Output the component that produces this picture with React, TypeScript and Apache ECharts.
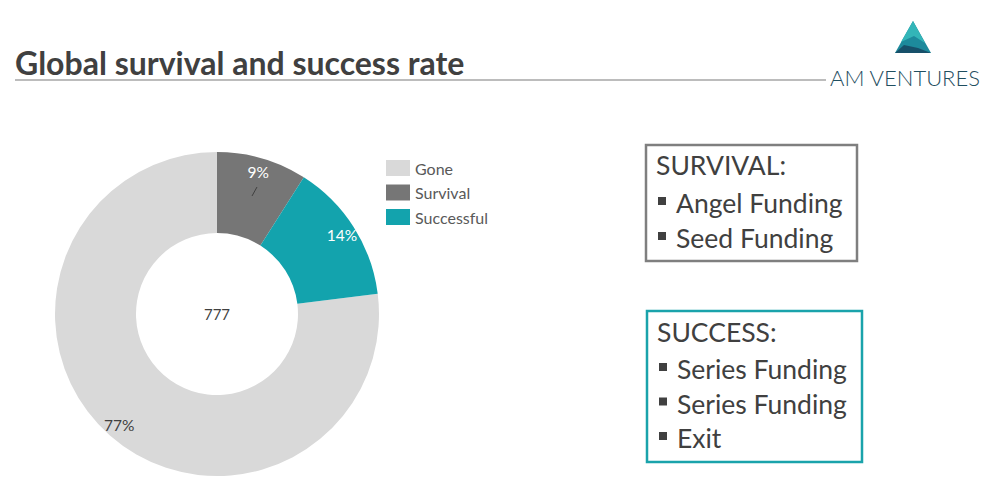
import React, { useEffect, useRef } from "react";
import * as echarts from "echarts";

const categories = ["Gone", "Survival", "Successful"];
const values = [77, 9, 14];
const sliceColors = ["#d9d9d9", "#767676", "#13a3ad"];
const labelColors = ["#404040", "#ffffff", "#ffffff"];
const centerLabel = "777";
const titleText = "Global survival and success rate";
const brandText = "AM VENTURES";
const survivalHeading = "SURVIVAL:";
const survivalItems = ["Angel Funding", "Seed Funding"];
const successHeading = "SUCCESS:";
const successItems = ["Series Funding", "Series Funding", "Exit"];

const FONT = "Lato, 'Open Sans', sans-serif";
const TEXT = "#404040";

function boxGraphics(
  x: number,
  y: number,
  w: number,
  h: number,
  stroke: string,
  heading: string,
  items: string[],
  headingY: number,
  itemY0: number,
  itemStep: number,
  textX: number
) {
  const els: any[] = [
    {
      type: "rect",
      shape: { x, y, width: w, height: h },
      style: { fill: "#ffffff", stroke, lineWidth: 2.5 },
    },
    {
      type: "text",
      x: x + 10,
      y: headingY,
      style: {
        text: heading,
        fill: TEXT,
        font: `26.5px ${FONT}`,
        textVerticalAlign: "middle",
      },
    },
  ];
  items.forEach((t, i) => {
    const cy = itemY0 + i * itemStep;
    els.push({
      type: "rect",
      shape: { x: x + 12, y: cy - 6, width: 8, height: 8 },
      style: { fill: TEXT },
    });
    els.push({
      type: "text",
      x: textX,
      y: cy,
      style: {
        text: t,
        fill: TEXT,
        font: `26.5px ${FONT}`,
        textVerticalAlign: "middle",
      },
    });
  });
  return els;
}

export default function App() {
  const ref = useRef<HTMLDivElement>(null);
  useEffect(() => {
    if (!ref.current) return;
    const chart = echarts.init(ref.current, undefined, { renderer: "svg" });
    const total = values.reduce((a, b) => a + b, 0);
    const startAngle = 90 - 360 * (1 - values[0] / total);
    const data = categories.map((name, i) => ({
      name,
      value: values[i],
      itemStyle: { color: sliceColors[i] },
    }));
    const labelData = categories.map((name, i) => ({
      name,
      value: values[i],
      itemStyle: { color: "rgba(0,0,0,0)" },
      label: { color: labelColors[i] },
    }));
    chart.setOption({
      animation: false,
      backgroundColor: "#ffffff",
      legend: {
        orient: "vertical",
        left: 386,
        top: 160,
        itemWidth: 24,
        itemHeight: 16,
        itemGap: 8.5,
        padding: 0,
        icon: "rect",
        selectedMode: false,
        textStyle: { fontSize: 16, color: "#595959", fontFamily: FONT },
        data: categories.map((name, i) => ({
          name,
          itemStyle: { color: sliceColors[i] },
        })),
      },
      series: [
        {
          type: "pie",
          center: [217, 314],
          radius: [81, 162],
          startAngle,
          clockwise: true,
          silent: true,
          label: { show: false },
          labelLine: { show: false },
          data,
        },
        {
          type: "pie",
          center: [217, 314],
          radius: [128, 162],
          startAngle,
          clockwise: true,
          silent: true,
          label: {
            show: true,
            position: "inside",
            formatter: "{d}%",
            fontSize: 15.5,
            fontFamily: FONT,
          },
          labelLine: { show: false },
          data: labelData,
        },
      ],
      graphic: [
        {
          type: "text",
          x: 15,
          y: 62,
          style: {
            text: titleText,
            fill: TEXT,
            font: `bold 32px ${FONT}`,
            textVerticalAlign: "middle",
          },
        },
        {
          type: "line",
          shape: { x1: 15, y1: 80, x2: 826, y2: 80 },
          style: { stroke: "#a6a6a6", lineWidth: 1.5 },
        },
        {
          type: "polygon",
          shape: { points: [[913, 21], [895, 53], [931, 53]] },
          style: { fill: "#1d8a9c" },
        },
        {
          type: "polygon",
          shape: { points: [[913, 21], [901, 42], [914, 36], [925, 43]] },
          style: { fill: "#33b5b8" },
        },
        {
          type: "polygon",
          shape: { points: [[895, 53], [904, 45], [918, 48], [931, 53]] },
          style: { fill: "#17506a" },
        },
        {
          type: "text",
          x: 830,
          y: 77,
          style: {
            text: brandText,
            fill: "#1f4e5f",
            font: `300 22px ${FONT}`,
            textVerticalAlign: "middle",
          },
        },
        {
          type: "line",
          z: 100,
          shape: { x1: 252, y1: 196, x2: 257, y2: 187 },
          style: { stroke: "#404040", lineWidth: 1 },
        },
        {
          type: "text",
          x: 217,
          y: 314,
          z: 100,
          style: {
            text: centerLabel,
            fill: TEXT,
            font: `15px ${FONT}`,
            textAlign: "center",
            textVerticalAlign: "middle",
          },
        },
        ...boxGraphics(646, 145, 211, 116, "#7f7f7f", survivalHeading, survivalItems, 165, 203, 35, 676),
        ...boxGraphics(647, 311, 215, 151, "#1aa3ab", successHeading, successItems, 332, 369, 34.5, 677),
      ],
    });
    return () => chart.dispose();
  }, []);
  return (
    <div
      ref={ref}
      style={{ position: "fixed", left: 0, top: 0, width: 1000, height: 494, background: "#fff" }}
    />
  );
}
